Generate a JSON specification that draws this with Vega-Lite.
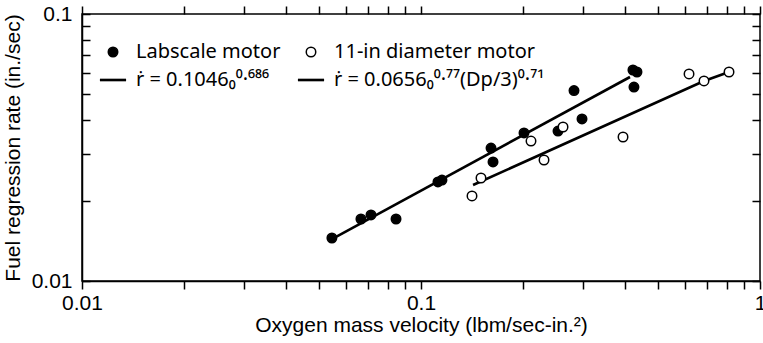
{
  "$schema": "https://vega.github.io/schema/vega-lite/v6.json",
  "width": 678,
  "height": 267,
  "autosize": "none",
  "padding": {"left": 82, "top": 14, "right": 3, "bottom": 62},
  "background": "white",
  "config": {
    "font": "Liberation Sans",
    "view": {"stroke": "black", "strokeWidth": 1.5},
    "axis": {
      "domainColor": "black",
      "domainWidth": 1.5,
      "labelColor": "black",
      "titleColor": "black",
      "labelFont": "Liberation Sans",
      "titleFont": "Liberation Sans",
      "labelFontSize": 21,
      "titleFontSize": 21,
      "titleFontWeight": "normal"
    },
    "legend": {
      "labelFont": "Noto Sans",
      "labelFontSize": 20,
      "labelColor": "black"
    }
  },
  "datasets": {
    "pts": [
      {"series": "Labscale motor", "G": 0.0546, "r": 0.01449},
      {"series": "Labscale motor", "G": 0.0665, "r": 0.01707},
      {"series": "Labscale motor", "G": 0.0712, "r": 0.01767},
      {"series": "Labscale motor", "G": 0.0844, "r": 0.01707},
      {"series": "Labscale motor", "G": 0.1122, "r": 0.02349},
      {"series": "Labscale motor", "G": 0.1153, "r": 0.02389},
      {"series": "Labscale motor", "G": 0.1609, "r": 0.03148},
      {"series": "Labscale motor", "G": 0.1631, "r": 0.02791},
      {"series": "Labscale motor", "G": 0.2013, "r": 0.03584},
      {"series": "Labscale motor", "G": 0.2536, "r": 0.03645},
      {"series": "Labscale motor", "G": 0.2827, "r": 0.05169},
      {"series": "Labscale motor", "G": 0.2985, "r": 0.04044},
      {"series": "Labscale motor", "G": 0.4219, "r": 0.0617},
      {"series": "Labscale motor", "G": 0.4336, "r": 0.06064},
      {"series": "Labscale motor", "G": 0.4248, "r": 0.05327},
      {"series": "11-in diameter motor", "G": 0.1414, "r": 0.02082},
      {"series": "11-in diameter motor", "G": 0.1503, "r": 0.02431},
      {"series": "11-in diameter motor", "G": 0.2111, "r": 0.03344},
      {"series": "11-in diameter motor", "G": 0.2306, "r": 0.02839},
      {"series": "11-in diameter motor", "G": 0.2624, "r": 0.03774},
      {"series": "11-in diameter motor", "G": 0.3944, "r": 0.03462},
      {"series": "11-in diameter motor", "G": 0.6175, "r": 0.05962},
      {"series": "11-in diameter motor", "G": 0.6836, "r": 0.05612},
      {"series": "11-in diameter motor", "G": 0.8102, "r": 0.06064}
    ],
    "lines": [
      {"series": "labscale fit", "G": 0.0546, "r": 0.01436},
      {"series": "labscale fit", "G": 0.4135, "r": 0.05808},
      {"series": "11-in fit", "G": 0.1424, "r": 0.02289},
      {"series": "11-in fit", "G": 0.6836, "r": 0.05612},
      {"series": "11-in fit", "G": 0.8102, "r": 0.06064}
    ]
  },
  "resolve": {"axis": {"x": "independent", "y": "independent"}},
  "layer": [
    {
      "data": {"name": "lines"},
      "mark": {"type": "line", "stroke": "black", "strokeWidth": 2.6},
      "encoding": {
        "x": {
          "field": "G", "type": "quantitative",
          "scale": {"type": "log", "domain": [0.01, 1], "nice": false},
          "axis": {
            "orient": "bottom",
            "values": [0.01, 0.02, 0.03, 0.04, 0.05, 0.06, 0.07, 0.08, 0.09, 0.1, 0.2, 0.3, 0.4, 0.5, 0.6, 0.7, 0.8, 0.9, 1],
            "labelExpr": "datum.value == 0.01 ? '0.01' : datum.value == 0.1 ? '0.1' : datum.value == 1 ? '1' : ''",
            "ticks": true,
            "tickSize": 8,
            "tickColor": "black",
            "tickWidth": 1.5,
            "grid": false,
            "labelPadding": 3,
            "labelFlush": false,
            "labelOverlap": false,
            "title": "Oxygen mass velocity (lbm/sec-in.²)",
            "titlePadding": 1
          }
        },
        "y": {
          "field": "r", "type": "quantitative",
          "scale": {"type": "log", "domain": [0.01, 0.1], "nice": false},
          "axis": {
            "orient": "left",
            "values": [0.01, 0.02, 0.03, 0.04, 0.05, 0.06, 0.07, 0.08, 0.09, 0.1],
            "labelExpr": "datum.value == 0.01 ? '0.01' : datum.value == 0.1 ? '0.1' : ''",
            "ticks": false,
            "grid": true,
            "gridColor": "black",
            "gridOpacity": 1,
            "gridWidth": 1.3,
            "gridDash": [8, 662, 8, 1000],
            "labelPadding": 10,
            "labelFlush": false,
            "labelOverlap": false,
            "title": "Fuel regression rate (in./sec)",
            "titlePadding": 8
          }
        },
        "detail": {"field": "series"}
      }
    },
    {
      "data": {"name": "pts"},
      "mark": {"type": "point", "filled": true, "stroke": "black", "strokeWidth": 1.5, "size": 90, "opacity": 1, "fillOpacity": 1},
      "encoding": {
        "x": {
          "field": "G", "type": "quantitative", "scale": {"type": "log", "domain": [0.01, 1], "nice": false},
          "axis": {
            "orient": "top",
            "values": [0.01, 0.02, 0.03, 0.04, 0.05, 0.06, 0.07, 0.08, 0.09, 0.1, 0.2, 0.3, 0.4, 0.5, 0.6, 0.7, 0.8, 0.9, 1],
            "labels": false,
            "domain": false,
            "grid": false,
            "ticks": true,
            "tickSize": 8,
            "tickColor": "black",
            "tickWidth": 1.5,
            "title": null
          }
        },
        "y": {"field": "r", "type": "quantitative", "scale": {"type": "log", "domain": [0.01, 0.1], "nice": false}, "axis": null},
        "fill": {
          "field": "series", "type": "nominal",
          "scale": {
            "domain": ["Labscale motor", "ṙ = 0.1046₀⁰·⁶⁸⁶", "11-in diameter motor", "ṙ = 0.0656₀⁰·⁷⁷(Dp/3)⁰·⁷¹"],
            "range": ["black", "black", "white", "black"]
          },
          "legend": {
            "title": null,
            "orient": "none",
            "legendX": 21,
            "legendY": 28,
            "columns": 2,
            "columnPadding": 14,
            "rowPadding": 8,
            "symbolSize": 90,
            "symbolStrokeWidth": 1.5,
            "labelOffset": 13,
            "labelLimit": 400,
            "encode": {
              "symbols": {
                "stroke": {"value": "black"},
                "opacity": {"value": 1},
                "fillOpacity": {"value": 1}
              }
            }
          }
        },
        "shape": {
          "field": "series", "type": "nominal",
          "scale": {
            "domain": ["Labscale motor", "ṙ = 0.1046₀⁰·⁶⁸⁶", "11-in diameter motor", "ṙ = 0.0656₀⁰·⁷⁷(Dp/3)⁰·⁷¹"],
            "range": ["circle", "M-2.6,-0.12H2.6V0.12H-2.6Z", "circle", "M-2.6,-0.12H2.6V0.12H-2.6Z"]
          }
        }
      }
    }
  ]
}
